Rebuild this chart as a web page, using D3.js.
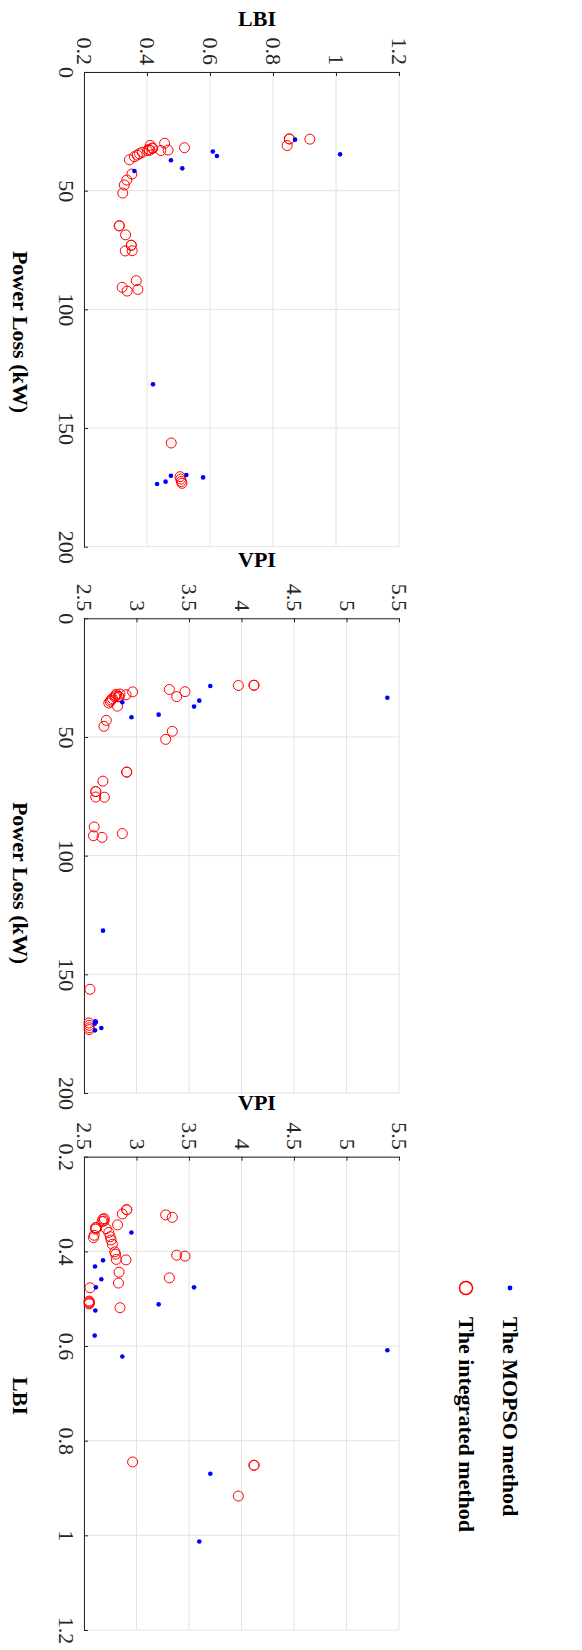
<!DOCTYPE html>
<html>
<head>
<meta charset="utf-8">
<script src="https://cdn.jsdelivr.net/npm/d3@7"></script>
<style>
  html, body { margin: 0; padding: 0; background: #fff; }
  svg { display: block; }
</style>
</head>
<body>
<script>
// Pareto fronts of the two methods: power loss (kW), LBI and VPI of each solution
const mopsoLoss = [28.5, 34.7, 33.5, 35.4, 37.2, 40.6, 41.7, 131.6, 173.6, 172.6, 170.1, 169.8, 170.8];
const mopsoLBI  = [0.870, 1.013, 0.609, 0.622, 0.476, 0.512, 0.360, 0.419, 0.432, 0.459, 0.476, 0.525, 0.578];
const mopsoVPI  = [3.703, 3.598, 5.389, 2.865, 3.548, 3.211, 2.952, 2.681, 2.605, 2.665, 2.613, 2.608, 2.602];

const integLoss = [28.2, 28.2, 28.3, 31.0, 30.0, 30.9, 33.0, 51.0, 47.6, 31.9,
                   32.9, 33.1, 32.2, 37.0, 43.0, 45.5, 35.7, 35.0, 34.4, 33.8,
                   33.1, 32.6, 32.0, 64.8, 64.8, 68.6, 73.0, 73.0, 75.3, 75.4,
                   87.9, 90.7, 91.6, 92.3, 156.3, 170.5, 171.5, 172.5, 173.3];
const integLBI  = [0.852, 0.852, 0.917, 0.845, 0.456, 0.410, 0.408, 0.323, 0.328, 0.519,
                   0.467, 0.444, 0.418, 0.344, 0.352, 0.336, 0.360, 0.369, 0.376, 0.385,
                   0.401, 0.406, 0.417, 0.312, 0.312, 0.332, 0.350, 0.350, 0.353, 0.331,
                   0.366, 0.321, 0.371, 0.337, 0.477, 0.505, 0.507, 0.509, 0.511];
const integVPI  = [4.119, 4.119, 3.970, 2.963, 3.313, 3.462, 3.383, 3.278, 3.341, 2.843,
                   2.828, 2.834, 2.900, 2.819, 2.712, 2.690, 2.736, 2.750, 2.758, 2.770,
                   2.793, 2.801, 2.807, 2.907, 2.907, 2.680, 2.612, 2.612, 2.612, 2.694,
                   2.597, 2.865, 2.590, 2.672, 2.557, 2.548, 2.549, 2.550, 2.549];

const lossTicks = [0, 50, 100, 150, 200];
const lossTickLabels = ["0", "50", "100", "150", "200"];
const lbiTicks = [0.2, 0.4, 0.6, 0.8, 1.0, 1.2];
const lbiTickLabels = ["0.2", "0.4", "0.6", "0.8", "1", "1.2"];
const vpiTicks = [2.5, 3, 3.5, 4, 4.5, 5, 5.5];
const vpiTickLabels = ["2.5", "3", "3.5", "4", "4.5", "5", "5.5"];

const legendNames = ["The MOPSO method", "The integrated method"];

const W = 582, H = 1650;
const FONT = "'Liberation Serif', 'Times New Roman', serif";
const AXIS_COLOR = "#262626";
const GRID_COLOR = "#e2e2e2";

const svg = d3.select("body").append("svg")
  .attr("width", W).attr("height", H)
  .style("font-family", FONT);
svg.append("rect").attr("width", W).attr("height", H).attr("fill", "#fff");

// The figure is laid out turned a quarter-turn clockwise:
// the first variable runs downwards, the second runs to the right.
function drawPanel(p) {
  const left = 84, right = 399;
  const yS = d3.scaleLinear().domain(p.downDomain).range([p.top, p.bottom]);
  const xS = d3.scaleLinear().domain(p.rightDomain).range([left, right]);
  const g = svg.append("g");

  // grid
  g.append("g").selectAll("line").data(p.downTicks).join("line")
    .attr("x1", left).attr("x2", right)
    .attr("y1", d => yS(d)).attr("y2", d => yS(d))
    .attr("stroke", GRID_COLOR).attr("stroke-width", 1);
  g.append("g").selectAll("line").data(p.rightTicks).join("line")
    .attr("x1", d => xS(d)).attr("x2", d => xS(d))
    .attr("y1", p.top).attr("y2", p.bottom)
    .attr("stroke", GRID_COLOR).attr("stroke-width", 1);

  // axis along the left edge
  const downFmt = d => p.downLabels[p.downTicks.indexOf(d)];
  const ax1 = g.append("g").attr("transform", `translate(${left},0)`)
    .call(d3.axisLeft(yS).tickValues(p.downTicks).tickFormat(downFmt)
      .tickSize(-4).tickSizeOuter(0));
  ax1.attr("font-family", FONT).attr("font-size", 22);
  ax1.select(".domain").attr("stroke", AXIS_COLOR);
  ax1.selectAll(".tick line").attr("stroke", AXIS_COLOR);
  ax1.selectAll(".tick text")
    .attr("x", null).attr("dy", null)
    .attr("fill", "#262626")
    .attr("text-anchor", "middle")
    .attr("dominant-baseline", "central")
    .attr("transform", "translate(-18,0) rotate(90)");

  // axis along the top edge
  const rightFmt = d => p.rightLabels[p.rightTicks.indexOf(d)];
  const ax2 = g.append("g").attr("transform", `translate(0,${p.top})`)
    .call(d3.axisTop(xS).tickValues(p.rightTicks).tickFormat(rightFmt)
      .tickSize(-4).tickSizeOuter(0));
  ax2.attr("font-family", FONT).attr("font-size", 22);
  ax2.select(".domain").attr("stroke", AXIS_COLOR);
  ax2.selectAll(".tick line").attr("stroke", AXIS_COLOR);
  ax2.selectAll(".tick text")
    .attr("y", null).attr("dy", null)
    .attr("fill", "#262626")
    .attr("text-anchor", "end")
    .attr("dominant-baseline", "central")
    .attr("transform", "translate(0,-7) rotate(90)");

  // titles
  g.append("text")
    .attr("x", 257).attr("y", p.rightTitleY)
    .attr("text-anchor", "middle")
    .attr("font-size", 22).attr("font-weight", "bold")
    .text(p.rightTitle);
  g.append("text")
    .attr("text-anchor", "middle")
    .attr("dominant-baseline", "central")
    .attr("font-size", 22).attr("font-weight", "bold")
    .attr("transform", `translate(20,${p.downTitleY}) rotate(90)`)
    .text(p.downTitle);

  // integrated method: open red circles
  g.append("g").selectAll("circle").data(d3.range(p.integDown.length)).join("circle")
    .attr("cx", i => xS(p.integRight[i]))
    .attr("cy", i => yS(p.integDown[i]))
    .attr("r", 5)
    .attr("fill", "none").attr("stroke", "#ff0000").attr("stroke-width", 1);

  // MOPSO: blue dots
  g.append("g").selectAll("circle").data(d3.range(p.mopsoDown.length)).join("circle")
    .attr("cx", i => xS(p.mopsoRight[i]))
    .attr("cy", i => yS(p.mopsoDown[i]))
    .attr("r", 2.3)
    .attr("fill", "#0000ff");
}

drawPanel({
  top: 72, bottom: 546.7,
  downDomain: [0, 200], downTicks: lossTicks, downLabels: lossTickLabels,
  rightDomain: [0.2, 1.2], rightTicks: lbiTicks, rightLabels: lbiTickLabels,
  rightTitle: "LBI", rightTitleY: 26,
  downTitle: "Power Loss (kW)", downTitleY: 332,
  mopsoDown: mopsoLoss, mopsoRight: mopsoLBI,
  integDown: integLoss, integRight: integLBI
});

drawPanel({
  top: 618.3, bottom: 1093,
  downDomain: [0, 200], downTicks: lossTicks, downLabels: lossTickLabels,
  rightDomain: [2.5, 5.5], rightTicks: vpiTicks, rightLabels: vpiTickLabels,
  rightTitle: "VPI", rightTitleY: 567,
  downTitle: "Power Loss (kW)", downTitleY: 883,
  mopsoDown: mopsoLoss, mopsoRight: mopsoVPI,
  integDown: integLoss, integRight: integVPI
});

drawPanel({
  top: 1156.7, bottom: 1630,
  downDomain: [0.2, 1.2], downTicks: lbiTicks, downLabels: lbiTickLabels,
  rightDomain: [2.5, 5.5], rightTicks: vpiTicks, rightLabels: vpiTickLabels,
  rightTitle: "VPI", rightTitleY: 1110,
  downTitle: "LBI", downTitleY: 1396,
  mopsoDown: mopsoLBI, mopsoRight: mopsoVPI,
  integDown: integLBI, integRight: integVPI
});

// legend
const legend = svg.append("g");
legend.append("circle").attr("cx", 510).attr("cy", 1288).attr("r", 2.4).attr("fill", "#0000ff");
legend.append("circle").attr("cx", 466).attr("cy", 1288).attr("r", 6.5)
  .attr("fill", "none").attr("stroke", "#ff0000").attr("stroke-width", 1.5);
legend.selectAll("text").data(legendNames).join("text")
  .attr("text-anchor", "start")
  .attr("dominant-baseline", "central")
  .attr("font-size", 22).attr("font-weight", "bold")
  .attr("transform", (d, i) => `translate(${i === 0 ? 510 : 466},1317) rotate(90)`)
  .text(d => d);
</script>
</body>
</html>
